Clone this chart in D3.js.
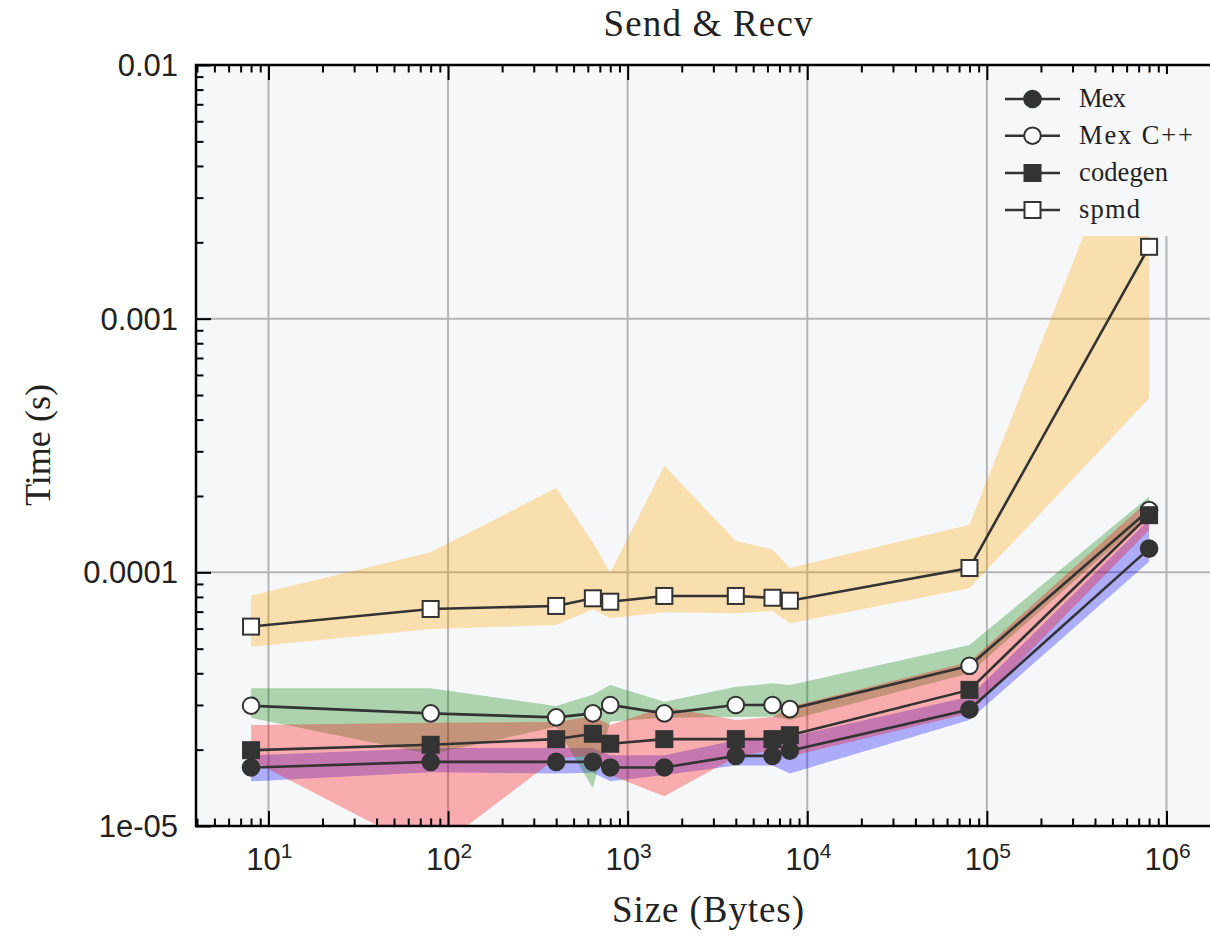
<!DOCTYPE html>
<html><head><meta charset="utf-8">
<script src="https://cdn.jsdelivr.net/npm/d3@7"></script>
<style>body{margin:0;background:#fff}svg{display:block}</style>
</head><body><svg id="c" width="1210" height="936"></svg>
<script>
// ---- data ----
const sizes = [8, 80, 400, 640, 800, 1600, 4000, 6400, 8000, 80000, 800000];

const mexMean = [1.70e-5, 1.79e-5, 1.79e-5, 1.79e-5, 1.70e-5, 1.70e-5, 1.89e-5, 1.89e-5, 1.98e-5, 2.88e-5, 1.24e-4];
const mexLow  = [1.50e-5, 1.63e-5, 1.61e-5, 1.62e-5, 1.50e-5, 1.59e-5, 1.73e-5, 1.73e-5, 1.61e-5, 2.62e-5, 1.10e-4];
const mexHigh = [1.90e-5, 2.03e-5, 2.03e-5, 2.03e-5, 1.90e-5, 1.90e-5, 2.18e-5, 2.24e-5, 2.25e-5, 3.23e-5, 1.61e-4];

const cppMean = [2.98e-5, 2.78e-5, 2.68e-5, 2.78e-5, 3.00e-5, 2.78e-5, 3.00e-5, 3.00e-5, 2.89e-5, 4.28e-5, 1.76e-4];
const cppLow  = [2.67e-5, 1.92e-5, 2.46e-5, 1.41e-5, 2.58e-5, 2.67e-5, 2.69e-5, 2.70e-5, 2.62e-5, 4.00e-5, 1.68e-4];
const cppHigh = [3.49e-5, 3.49e-5, 2.97e-5, 3.29e-5, 3.60e-5, 3.09e-5, 3.54e-5, 3.65e-5, 3.60e-5, 5.17e-5, 1.99e-4];

const cgMean = [1.99e-5, 2.09e-5, 2.20e-5, 2.31e-5, 2.11e-5, 2.20e-5, 2.20e-5, 2.20e-5, 2.28e-5, 3.44e-5, 1.68e-4];
const cgLow  = [1.82e-5, 7.8e-6, 1.85e-5, 1.89e-5, 1.59e-5, 1.31e-5, 1.87e-5, 1.99e-5, 1.88e-5, 2.78e-5, 1.47e-4];
const cgHigh = [2.50e-5, 2.55e-5, 2.57e-5, 2.71e-5, 2.50e-5, 2.95e-5, 2.62e-5, 2.69e-5, 2.95e-5, 4.44e-5, 1.93e-4];

const spmdMean = [6.11e-5, 7.17e-5, 7.37e-5, 7.90e-5, 7.66e-5, 8.07e-5, 8.07e-5, 7.94e-5, 7.73e-5, 1.04e-4, 1.92e-3];
const spmdLow  = [5.09e-5, 5.98e-5, 6.20e-5, 7.15e-5, 6.59e-5, 6.96e-5, 6.90e-5, 7.04e-5, 6.30e-5, 8.65e-5, 4.84e-4];
const spmdHigh = [8.09e-5, 1.20e-4, 2.15e-4, 1.31e-4, 9.94e-5, 2.63e-4, 1.33e-4, 1.23e-4, 1.04e-4, 1.54e-4, 9.6e-3];

const seriesNames = ["Mex", "Mex C++", "codegen", "spmd"];
const xMajorTicks = [1e1, 1e2, 1e3, 1e4, 1e5, 1e6];
const xTickExponents = ["1", "2", "3", "4", "5", "6"];
const yMajorTicks = [1e-2, 1e-3, 1e-4, 1e-5];
const yTickLabels = ["0.01", "0.001", "0.0001", "1e-05"];

// ---- layout ----
const L = 196, R = 1220, T = 65, B = 826;
const bg = "#f6f7f9", ink = "#333333";
const svg = d3.select("#c");

const x = d3.scaleLog().domain([3.95, 1.986e6]).range([L, R]);
const y = d3.scaleLog().domain([1e-5, 1e-2]).range([B, T]);

const series = [
  {name: seriesNames[0], mean: mexMean, lo: mexLow, hi: mexHigh, fill: "#0000ff", shape: "circle", filled: true, w: 47},
  {name: seriesNames[1], mean: cppMean, lo: cppLow, hi: cppHigh, fill: "#008000", shape: "circle", filled: false, w: 114},
  {name: seriesNames[2], mean: cgMean, lo: cgLow, hi: cgHigh, fill: "#ff0000", shape: "square", filled: true, w: 89},
  {name: seriesNames[3], mean: spmdMean, lo: spmdLow, hi: spmdHigh, fill: "#ffa500", shape: "square", filled: false, w: 61}
];

svg.append("defs").append("clipPath").attr("id", "clip")
  .append("rect").attr("x", L).attr("y", T).attr("width", R - L).attr("height", B - T);

svg.append("rect").attr("x", L).attr("y", T).attr("width", R - L).attr("height", B - T).attr("fill", bg);

// grid
const grid = svg.append("g").attr("clip-path", "url(#clip)");
grid.selectAll(".gx").data(xMajorTicks).join("line")
  .attr("x1", d => x(d)).attr("x2", d => x(d)).attr("y1", T).attr("y2", B)
  .attr("stroke", "#b4b4b4").attr("stroke-width", 2);
grid.selectAll(".gy").data(yMajorTicks).join("line")
  .attr("y1", d => y(d)).attr("y2", d => y(d)).attr("x1", L).attr("x2", R)
  .attr("stroke", "#b4b4b4").attr("stroke-width", 2);

// bands
const plot = svg.append("g").attr("clip-path", "url(#clip)");
series.forEach(s => {
  const pts = sizes.map((v, i) => ({s: v, lo: s.lo[i], hi: s.hi[i]}));
  plot.append("path").datum(pts)
    .attr("d", d3.area().x(d => x(d.s)).y0(d => y(d.lo)).y1(d => y(d.hi)))
    .attr("fill", s.fill).attr("fill-opacity", 0.3);
});

// lines + markers
function marker(g, shape, filled, cx, cy) {
  if (shape === "circle") {
    g.append("circle").attr("cx", cx).attr("cy", cy).attr("r", 8.3)
      .attr("fill", filled ? ink : "#ffffff").attr("stroke", ink).attr("stroke-width", 2);
  } else {
    g.append("rect").attr("x", cx - 8).attr("y", cy - 8).attr("width", 16).attr("height", 16)
      .attr("fill", filled ? ink : "#ffffff").attr("stroke", ink).attr("stroke-width", 2);
  }
}
series.forEach(s => {
  const pts = sizes.map((v, i) => ({s: v, m: s.mean[i]}));
  const g = plot.append("g");
  g.append("path").datum(pts)
    .attr("d", d3.line().x(d => x(d.s)).y(d => y(d.m)))
    .attr("fill", "none").attr("stroke", ink).attr("stroke-width", 2.6);
  pts.forEach(d => marker(g, s.shape, s.filled, x(d.s), y(d.m)));
});

// ticks
const xMinor = [];
for (let e = 0; e <= 6; e++) for (let k = 2; k <= 9; k++) { const v = k * Math.pow(10, e); if (v > 3.95 && v < 1.986e6) xMinor.push(v); }
const yMinor = [];
for (let e = -5; e <= -3; e++) for (let k = 2; k <= 9; k++) yMinor.push(k * Math.pow(10, e));

function styleAxis(g) { g.select(".domain").remove(); g.selectAll("line").attr("stroke", "#000").attr("stroke-width", 2); g.selectAll("text").remove(); }
svg.append("g").attr("transform", `translate(0,${B})`).call(d3.axisBottom(x).tickValues(xMinor).tickSize(-7.5)).call(styleAxis);
svg.append("g").attr("transform", `translate(0,${B})`).call(d3.axisBottom(x).tickValues(xMajorTicks).tickSize(-15)).call(styleAxis);
svg.append("g").attr("transform", `translate(0,${T})`).call(d3.axisTop(x).tickValues(xMinor).tickSize(-7.5)).call(styleAxis);
svg.append("g").attr("transform", `translate(0,${T})`).call(d3.axisTop(x).tickValues(xMajorTicks).tickSize(-15)).call(styleAxis);
svg.append("g").attr("transform", `translate(${L},0)`).call(d3.axisLeft(y).tickValues(yMinor).tickSize(-7.5)).call(styleAxis);
svg.append("g").attr("transform", `translate(${L},0)`).call(d3.axisLeft(y).tickValues(yMajorTicks).tickSize(-15)).call(styleAxis);

// spines
svg.append("rect").attr("x", L).attr("y", T).attr("width", R - L).attr("height", B - T)
  .attr("fill", "none").attr("stroke", "#000").attr("stroke-width", 2.5);

// tick labels
const xl = svg.append("g").attr("font-family", "Liberation Sans, Arial, sans-serif").attr("fill", "#222");
xMajorTicks.forEach((v, i) => {
  const t = xl.append("text").attr("x", x(v) + 1).attr("y", 870).attr("text-anchor", "middle").attr("font-size", 31);
  t.append("tspan").text("10");
  t.append("tspan").attr("font-size", 21).attr("dy", -12).text(xTickExponents[i]);
});
yMajorTicks.forEach((v, i) => {
  xl.append("text").attr("x", 178).attr("y", y(v)).attr("dy", "0.36em").attr("text-anchor", "end")
    .attr("font-size", 31).text(yTickLabels[i]);
});

// titles
const serif = "Liberation Serif, Times New Roman, serif";
svg.append("text").attr("x", 708).attr("y", 36).attr("text-anchor", "middle").attr("font-family", serif)
  .attr("font-size", 37).attr("fill", "#222").attr("textLength", 209).attr("lengthAdjust", "spacing").text("Send & Recv");
svg.append("text").attr("x", 708).attr("y", 922).attr("text-anchor", "middle").attr("font-family", serif)
  .attr("font-size", 37).attr("fill", "#222").attr("textLength", 192).attr("lengthAdjust", "spacing").text("Size (Bytes)");
svg.append("text").attr("transform", "translate(50,445) rotate(-90)").attr("text-anchor", "middle").attr("font-family", serif)
  .attr("font-size", 36).attr("fill", "#222").attr("textLength", 122).attr("lengthAdjust", "spacing").text("Time (s)");

// legend
const lg = svg.append("g");
lg.append("rect").attr("x", 992).attr("y", 74).attr("width", 240).attr("height", 162).attr("fill", bg);
const rowY = [99, 135.7, 173, 210];
series.forEach((s, i) => {
  const cy = rowY[i];
  lg.append("line").attr("x1", 1005).attr("x2", 1060).attr("y1", cy).attr("y2", cy).attr("stroke", ink).attr("stroke-width", 2.6);
  marker(lg, s.shape, s.filled, 1032.5, cy);
  lg.append("text").attr("x", 1079).attr("y", cy + 8).attr("font-family", serif).attr("font-size", 26.5)
    .attr("fill", "#222").attr("textLength", s.w).attr("lengthAdjust", "spacing").text(s.name);
});
</script></body></html>
